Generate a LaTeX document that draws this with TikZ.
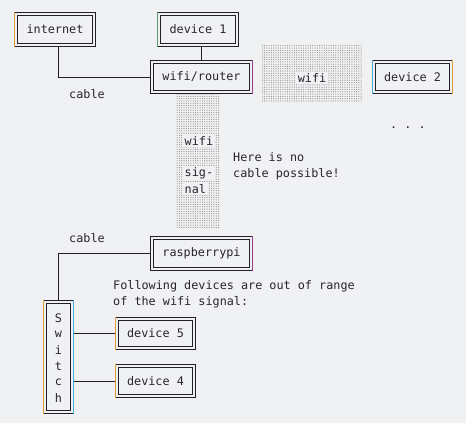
\documentclass[tikz,border=0pt]{standalone}
\usepackage{fontspec}
\setmonofont{DejaVu Sans Mono}
\usetikzlibrary{patterns.meta}
\definecolor{bg}{HTML}{F0F1F3}
\definecolor{linec}{HTML}{202026}
\definecolor{txt}{HTML}{26262C}
\definecolor{accO}{HTML}{E09A3A}
\definecolor{accB}{HTML}{4AA8E0}
\definecolor{accG}{HTML}{5A9A6A}
\definecolor{accM}{HTML}{9A3A8A}
\tikzset{
  dbox/.style={draw=linec, line width=0.8pt,
    inner sep=0pt, outer sep=0pt, font=\ttfamily\fontsize{11.8}{16}\selectfont, text=txt},
  inner/.style={draw=linec, line width=0.8pt},
  conn/.style={draw=linec, line width=0.8pt},
  lbl/.style={font=\ttfamily\fontsize{11.8}{16}\selectfont, text=txt, inner sep=0pt, anchor=west},
  dotarea/.style={pattern={Dots[distance=2.3pt, radius=0.6pt]}, pattern color=gray!85},
  acc/.style={line width=0.9pt}
}
\begin{document}
\begin{tikzpicture}[x=1pt,y=-1pt]
\useasboundingbox[fill=bg] (0,0) rectangle (466,423);
% dotted wifi areas
\fill[dotarea] (262,44) rectangle (362,101);
\fill[dotarea] (176,94) rectangle (219,228);
% boxes
\node[dbox, minimum width=81.2pt, minimum height=34.2pt] (internet) at (55,29.5) {internet};
\node[dbox, minimum width=81.2pt, minimum height=34.2pt] (device1) at (198,29.5) {device 1};
\node[dbox, minimum width=102.2pt, minimum height=33.2pt] (router) at (201.5,77) {wifi/router};
\node[dbox, minimum width=80.2pt, minimum height=33.2pt] (device2) at (412.5,77) {device 2};
\node[dbox, minimum width=102.2pt, minimum height=34.2pt] (rpi) at (201.5,253.5) {raspberrypi};
\node[dbox, minimum width=30.2pt, minimum height=113.2pt] (switch) at (58.5,357) {};
\node[dbox, minimum width=80.2pt, minimum height=32.2pt] (device5) at (155.5,333.5) {device 5};
\node[dbox, minimum width=80.2pt, minimum height=33.2pt] (device4) at (155.5,381) {device 4};
\foreach \n in {internet,device1,router,device2,rpi,switch,device5,device4}
  \draw[inner] ([shift={(3,3)}]\n.north west) rectangle ([shift={(-3,-3)}]\n.south east);
% switch letters
\foreach \c/\y [count=\i] in {S/318,w/334,i/350,t/366,c/382,h/398}
  \node[lbl, anchor=center] (sw\i) at (58.5,\y) {\c};
% coloured side accents
\foreach \n/\s/\c in {internet/west/accO, device1/west/accG, router/east/accM,
    device2/west/accB, device2/east/accO, rpi/east/accM, switch/east/accB,
    switch/west/accO, device5/west/accO, device4/west/accO}{
  \draw[acc, \c] (\n.north \s) -- (\n.south \s);
}
% connectors
\draw[conn] ([xshift=3pt]internet.south) |- (router.west);
\draw[conn] (device1.south -| router.north) -- (router.north);
\draw[conn] (rpi.west) -| (switch.north);
\draw[conn] (device5.west -| switch.east) -- (device5.west);
\draw[conn] (device4.west -| switch.east) -- (device4.west);
% texts
\node[lbl, anchor=center, fill=bg, inner sep=1.5pt] (wifih) at (312,78) {wifi};
\node[lbl, fill=bg, inner sep=1.5pt] (wifiv1) at (183,141) {wifi};
\node[lbl, fill=bg, inner sep=1.5pt] (wifiv2) at (183,173) {sig-};
\node[lbl, fill=bg, inner sep=1.5pt] (wifiv3) at (183,189) {nal};
\node[lbl] (nocable1) at (233,157) {Here is no};
\node[lbl] (nocable2) at (233,174) {cable possible!};
\node[lbl] (cable1) at (69,94) {cable};
\node[lbl] (cable2) at (69,238) {cable};
\node[lbl] (dots) at (390,128) {. . .};
\node[lbl] (follow1) at (113,286) {Following devices are out of range};
\node[lbl] (follow2) at (113,302) {of the wifi signal:};
\end{tikzpicture}
\end{document}
